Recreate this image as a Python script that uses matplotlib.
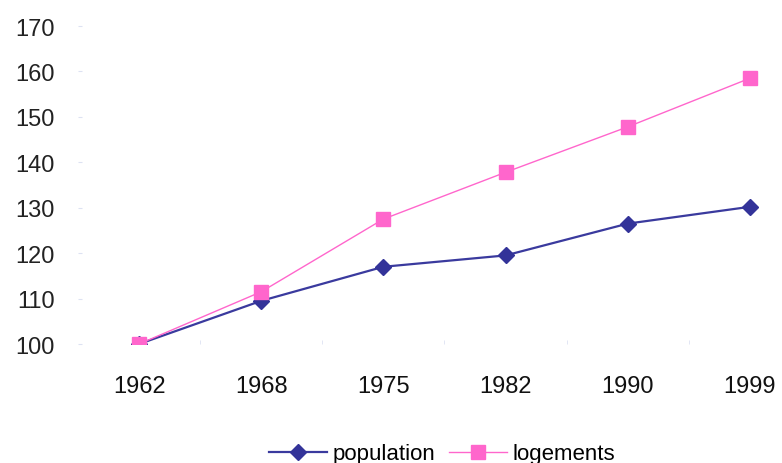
import matplotlib
matplotlib.use("Agg")
import matplotlib.pyplot as plt
import numpy as np

years = ["1962", "1968", "1975", "1982", "1990", "1999"]
population = [100, 109.5, 117.0, 119.5, 126.5, 130.2]
logements = [100, 111.5, 127.5, 137.8, 147.8, 158.5]
y_ticks = [100, 110, 120, 130, 140, 150, 160, 170]

plt.rcParams["font.family"] = ["Liberation Sans", "DejaVu Sans"]

fig = plt.figure(figsize=(7.82, 4.64), dpi=100)
ax = fig.add_axes([78 / 782, 119 / 464, 733 / 782, 318 / 464])

x = np.arange(len(years))
ax.plot(x, population, color="#3a3a9e", lw=1.6, marker="D", markersize=8,
        markerfacecolor="#333399", markeredgecolor="#333399", label="population",
        zorder=3)
ax.plot(x, logements, color="#ff66cc", lw=1.0, marker="s", markersize=10,
        markerfacecolor="#ff66cc", markeredgecolor="#ff66cc", label="logements",
        zorder=4)

ax.set_xlim(-0.5, len(years) - 0.5)
ax.set_ylim(100, 170)
ax.set_yticks(y_ticks)
ax.set_yticklabels([str(v) for v in y_ticks], fontsize=17, color="#222222")
ax.set_xticks(x)
ax.set_xticklabels(years, fontsize=17, color="#111111")
ax.set_xticks(np.arange(len(years)) + 0.5, minor=True)

for s in ax.spines.values():
    s.set_visible(False)
ax.tick_params(axis="y", length=3, color="#dde2f2", pad=17, direction="in")
ax.tick_params(axis="x", which="major", length=0, pad=22)
ax.tick_params(axis="x", which="minor", length=3, color="#dde2f2", direction="in")

handles, labels = ax.get_legend_handles_labels()
fig.legend(handles, labels, loc="center", bbox_to_anchor=(442 / 782, 1 - 455 / 464),
           ncol=2, frameon=False, fontsize=16, handlelength=2.6,
           columnspacing=0.6, handletextpad=0.25, borderaxespad=0)

fig.savefig("out.png", dpi=100, facecolor="white")
